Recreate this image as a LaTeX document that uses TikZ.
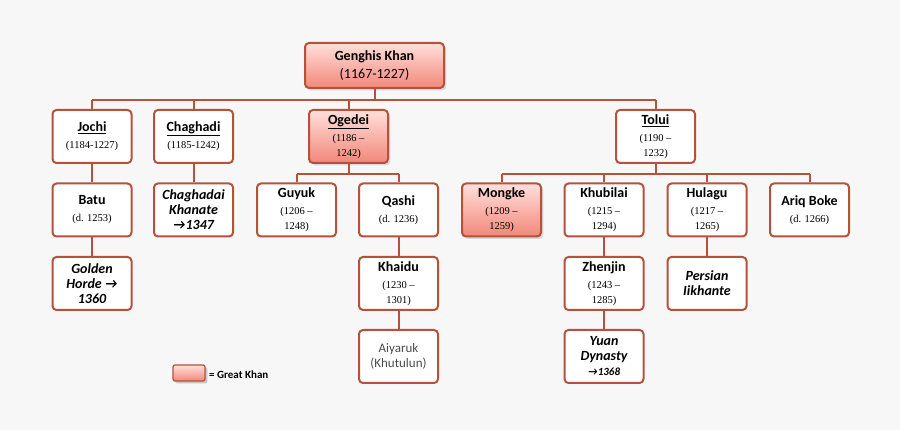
\documentclass[tikz,border=0pt]{standalone}
\usepackage{fontspec}
\setmainfont{Carlito}
\newfontfamily\datef{Liberation Serif}
\usetikzlibrary{shadows}
\definecolor{bord}{HTML}{B5523B}
\definecolor{pinkT}{HTML}{FFE0DA}
\definecolor{pinkB}{HTML}{F2877A}
\definecolor{bg}{HTML}{F7F7F7}
\newcommand\dt[1]{\\[2pt]\datef\mdseries\fontsize{10.5}{12}\selectfont #1}
\newcommand\dtt[2]{\\[2pt]\datef\mdseries\fontsize{10.5}{12}\selectfont #1\\\datef\mdseries\fontsize{10.5}{12}\selectfont #2}
\begin{document}
\begin{tikzpicture}[x=1pt,y=-1pt,
  box/.style={draw=bord,line width=2pt,rounded corners=4pt,fill=white,minimum width=79pt,minimum height=53pt,align=center,inner sep=1pt,font=\fontsize{14}{15}\selectfont\bfseries},
  gk/.style={box,top color=pinkT,bottom color=pinkB,drop shadow={opacity=0.25}},
  ln/.style={draw=bord,line width=2pt}]
\fill[bg] (0,0) rectangle (900,430);
\node[gk,minimum width=139pt,minimum height=45pt] (gen) at (374.5,65.5) {Genghis Khan\\[3pt]\mdseries (1167-1227)};
\node[box] (jochi) at (92,136.5) {\underline{Jochi}\dt{(1184-1227)}};
\node[box] (chag) at (193.5,136.5) {\underline{Chaghadi}\dt{(1185-1242)}};
\node[gk] (oged) at (348.5,136.5) {\underline{Ogedei}\dtt{(1186 –}{1242)}};
\node[box] (tolui) at (655.5,136.5) {\underline{Tolui}\dtt{(1190 –}{1232)}};
\node[box] (batu) at (92,210) {Batu\dt{(d. 1253)}};
\node[box] (ckh) at (193.5,210) {\itshape Chaghadai\\\itshape Khanate\\\itshape →1347};
\node[box] (guyuk) at (296.5,210) {Guyuk\dtt{(1206 –}{1248)}};
\node[box] (qashi) at (398.5,210) {Qashi\dt{(d. 1236)}};
\node[gk] (mongke) at (501.5,210) {Mongke\dtt{(1209 –}{1259)}};
\node[box] (khub) at (604,210) {Khubilai\dtt{(1215 –}{1294)}};
\node[box] (hul) at (707,210) {Hulagu\dtt{(1217 –}{1265)}};
\node[box] (ariq) at (809.5,210) {Ariq Boke\dt{(d. 1266)}};
\node[box] (golden) at (92,283.5) {\itshape Golden\\\itshape Horde →\\\itshape 1360};
\node[box] (khaidu) at (398.5,283.5) {Khaidu\dtt{(1230 –}{1301)}};
\node[box] (zhen) at (604,283.5) {Zhenjin\dtt{(1243 –}{1285)}};
\node[box] (pers) at (707,283.5) {\itshape Persian\\\itshape Iikhante};
\node[box,font=\fontsize{13}{15}\selectfont,text=black!70] (aiy) at (398.5,356.5) {Aiyaruk\\\fontsize{13}{15}\selectfont(Khutulun)};
\node[box] (yuan) at (604,356.5) {\itshape Yuan\\\itshape Dynasty\\\fontsize{11}{12}\selectfont\itshape →1368};
\node[gk,minimum width=32pt,minimum height=16pt,rounded corners=2pt,line width=1.2pt,drop shadow={opacity=0.2}] (leg) at (189,373) {};
\node[anchor=west,font=\fontsize{11}{12}\selectfont\bfseries,inner sep=0pt] (legt) at (209,375) {= Great Khan};
\coordinate (bar) at (0,100);
\coordinate (bar2) at (0,174);
\draw[ln] (gen.south) -- (gen.south|-bar);
\draw[ln] (jochi.north|-bar) -- (tolui.north|-bar);
\draw[ln] (jochi.north) -- (jochi.north|-bar);
\draw[ln] (tolui.north) -- (tolui.north|-bar);
\draw[ln] (chag.north) -- (chag.north|-bar);
\draw[ln] (oged.north) -- (oged.north|-bar);
\draw[ln] (oged.south) -- (oged.south|-bar2);
\draw[ln] (guyuk.north|-bar2) -- (qashi.north|-bar2);
\draw[ln] (guyuk.north) -- (guyuk.north|-bar2);
\draw[ln] (qashi.north) -- (qashi.north|-bar2);
\draw[ln] (tolui.south) -- (tolui.south|-bar2);
\draw[ln] (mongke.north|-bar2) -- (ariq.north|-bar2);
\draw[ln] (mongke.north) -- (mongke.north|-bar2);
\draw[ln] (ariq.north) -- (ariq.north|-bar2);
\draw[ln] (khub.north) -- (khub.north|-bar2);
\draw[ln] (hul.north) -- (hul.north|-bar2);
\draw[ln] (jochi) -- (batu); \draw[ln] (batu) -- (golden);
\draw[ln] (chag) -- (ckh);
\draw[ln] (qashi) -- (khaidu); \draw[ln] (khaidu) -- (aiy);
\draw[ln] (khub) -- (zhen); \draw[ln] (zhen) -- (yuan);
\draw[ln] (hul) -- (pers);
\end{tikzpicture}
\end{document}
